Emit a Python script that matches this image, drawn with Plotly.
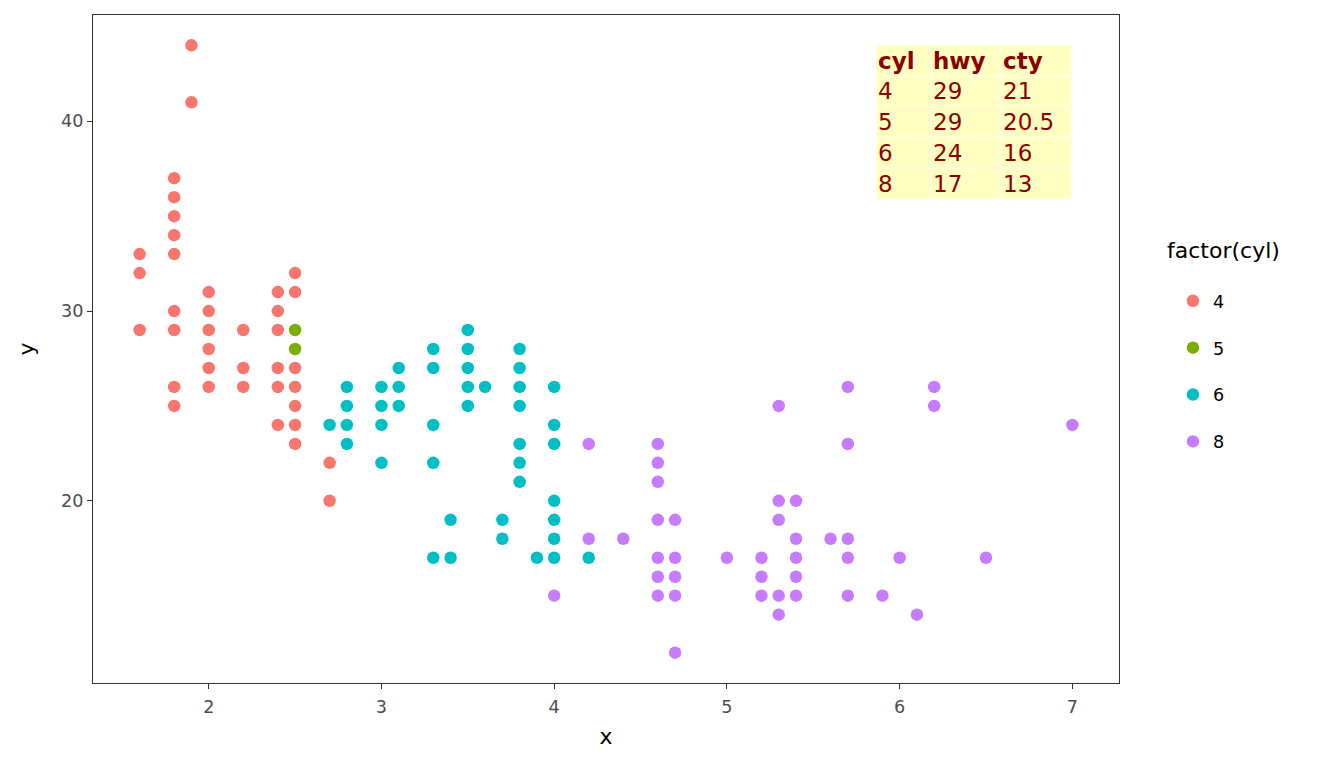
import plotly.graph_objects as go

# displ / hwy, grouped by cylinder count
cyl4_displ = [1.6, 1.6, 1.6,
              1.8, 1.8, 1.8, 1.8, 1.8, 1.8, 1.8, 1.8, 1.8,
              1.9, 1.9,
              2.0, 2.0, 2.0, 2.0, 2.0, 2.0,
              2.2, 2.2, 2.2,
              2.4, 2.4, 2.4, 2.4, 2.4, 2.4,
              2.5, 2.5, 2.5, 2.5, 2.5, 2.5, 2.5,
              2.7, 2.7]
cyl4_hwy = [33, 32, 29,
            37, 36, 35, 34, 33, 30, 29, 26, 25,
            44, 41,
            31, 30, 29, 28, 27, 26,
            29, 27, 26,
            31, 30, 29, 27, 26, 24,
            32, 31, 27, 26, 25, 24, 23,
            22, 20]

cyl5_displ = [2.5, 2.5]
cyl5_hwy = [29, 28]

cyl6_displ = [2.7,
              2.8, 2.8, 2.8, 2.8,
              3.0, 3.0, 3.0, 3.0,
              3.1, 3.1, 3.1,
              3.3, 3.3, 3.3, 3.3, 3.3,
              3.4, 3.4,
              3.5, 3.5, 3.5, 3.5, 3.5,
              3.6,
              3.7, 3.7,
              3.8, 3.8, 3.8, 3.8, 3.8, 3.8, 3.8,
              3.9,
              4.0, 4.0, 4.0, 4.0, 4.0, 4.0, 4.0,
              4.2]
cyl6_hwy = [24,
            26, 25, 24, 23,
            26, 25, 24, 22,
            27, 26, 25,
            28, 27, 24, 22, 17,
            19, 17,
            29, 28, 27, 26, 25,
            26,
            19, 18,
            28, 27, 26, 25, 23, 22, 21,
            17,
            26, 24, 23, 20, 19, 18, 17,
            17]

cyl8_displ = [4.0,
              4.2, 4.2,
              4.4,
              4.6, 4.6, 4.6, 4.6, 4.6, 4.6, 4.6,
              4.7, 4.7, 4.7, 4.7, 4.7,
              5.0,
              5.2, 5.2, 5.2,
              5.3, 5.3, 5.3, 5.3, 5.3,
              5.4, 5.4, 5.4, 5.4, 5.4,
              5.6,
              5.7, 5.7, 5.7, 5.7, 5.7,
              5.9, 6.0, 6.1,
              6.2, 6.2,
              6.5, 7.0]
cyl8_hwy = [15,
            23, 18,
            18,
            23, 22, 21, 19, 17, 16, 15,
            19, 17, 16, 15, 12,
            17,
            17, 16, 15,
            25, 20, 19, 15, 14,
            20, 18, 17, 16, 15,
            18,
            26, 23, 18, 17, 15,
            15, 17, 14,
            26, 25,
            17, 24]

# summary table (medians)
tab_header = ["cyl", "hwy", "cty"]
tab_cyl = ["4", "5", "6", "8"]
tab_hwy = ["29", "29", "24", "17"]
tab_cty = ["21", "20.5", "16", "13"]

groups = [
    ("4", cyl4_displ, cyl4_hwy, "#F8766D"),
    ("5", cyl5_displ, cyl5_hwy, "#7CAE00"),
    ("6", cyl6_displ, cyl6_hwy, "#00BFC4"),
    ("8", cyl8_displ, cyl8_hwy, "#C77CFF"),
]

fig = go.Figure()
for name, xs, ys, col in groups:
    fig.add_trace(go.Scatter(
        x=xs, y=ys, mode="markers", name=name, legendgroup=name,
        marker=dict(color=col, size=12.5, line=dict(width=0)),
    ))

# table box placed in the top-right of the panel (data units)
col_edges = [5.866, 6.183, 6.587, 6.996]
row_edges = [44.0, 42.37, 40.79, 39.16, 37.53, 35.89]
for i in range(len(row_edges) - 1):
    for j in range(len(col_edges) - 1):
        fig.add_shape(type="rect", xref="x", yref="y",
                      x0=col_edges[j], x1=col_edges[j + 1],
                      y0=row_edges[i + 1], y1=row_edges[i],
                      fillcolor="#FFFFC2", line=dict(color="#FFFFEA", width=1),
                      layer="below")

rows = [tab_header] + [[c, h, t] for c, h, t in zip(tab_cyl, tab_hwy, tab_cty)]
for i, row in enumerate(rows):
    ymid = (row_edges[i] + row_edges[i + 1]) / 2
    for j, txt in enumerate(row):
        fig.add_annotation(
            x=col_edges[j], y=ymid, xref="x", yref="y",
            text=f"<b>{txt}</b>" if i == 0 else txt,
            showarrow=False, xanchor="left", yanchor="middle",
            font=dict(family="DejaVu Sans", size=23, color="#8B0000"),
        )

# legend title drawn separately so the gap above the keys matches
fig.add_annotation(
    x=1.0448, y=0.647, xref="paper", yref="paper",
    text="factor(cyl)", showarrow=False, xanchor="left", yanchor="middle",
    font=dict(family="DejaVu Sans", size=22, color="black"),
)

axis_common = dict(
    showgrid=False, zeroline=False,
    showline=True, mirror=True, linecolor="#333333", linewidth=1,
    ticks="outside", ticklen=5, tickwidth=1.1, tickcolor="#333333",
    tickfont=dict(family="DejaVu Sans", size=17.6, color="#4D4D4D"),
)

# the page body adds 8px on the left/top, so margins are offset by that
fig.update_layout(
    width=1344, height=768,
    paper_bgcolor="white", plot_bgcolor="white",
    margin=dict(l=85, r=233, t=7, b=93),
    font=dict(family="DejaVu Sans", color="black"),
    xaxis=dict(axis_common, range=[1.33, 7.27], tickvals=[2, 3, 4, 5, 6, 7],
               ticklabelstandoff=3,
               title=dict(text="x", font=dict(size=22, color="black"), standoff=12)),
    yaxis=dict(axis_common, range=[10.4, 45.6], tickvals=[20, 30, 40],
               title=dict(text="y", font=dict(size=22, color="black"), standoff=20)),
    legend=dict(
        font=dict(size=17.6, color="black"),
        x=1.0526, xanchor="left", y=0.599, yanchor="top",
        tracegroupgap=21, bgcolor="rgba(0,0,0,0)",
    ),
)

fig.write_html("out.html")
